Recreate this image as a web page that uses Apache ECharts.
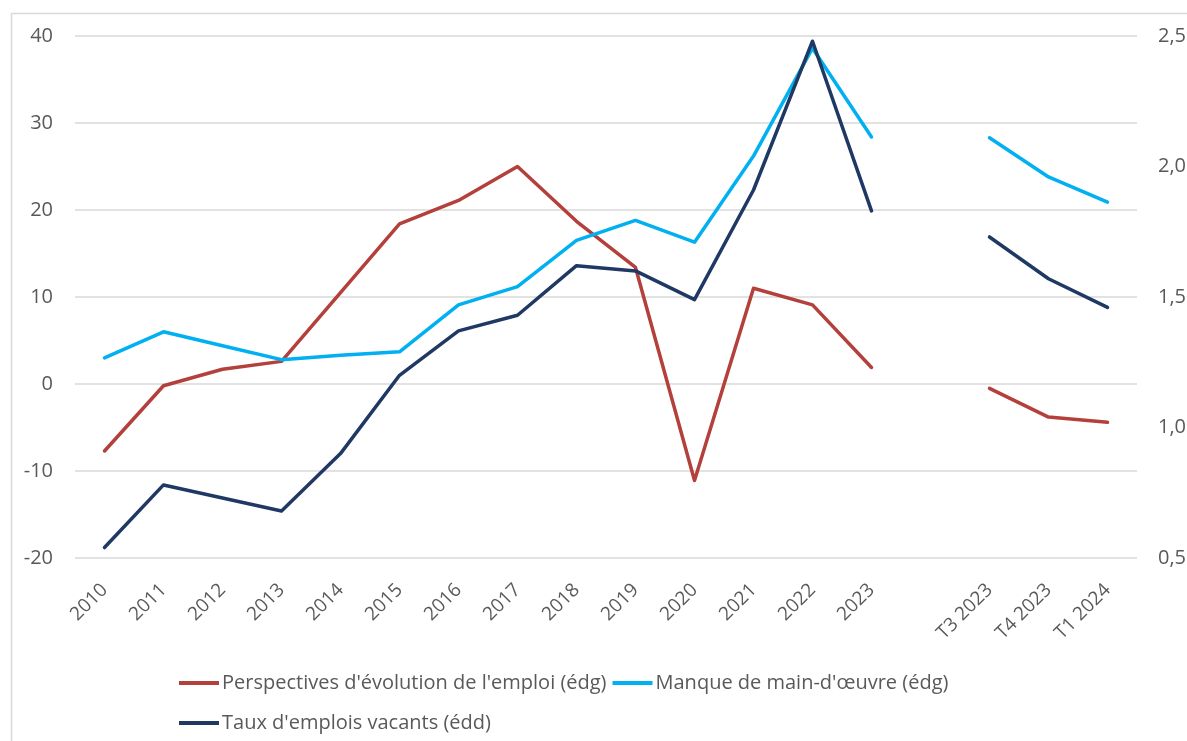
<!DOCTYPE html>
<html>
<head>
<meta charset="utf-8">
<script src="https://cdn.jsdelivr.net/npm/echarts@6/dist/echarts.min.js"></script>
<style>
  html, body { margin: 0; padding: 0; background: #fff; }
  #main { width: 1187px; height: 741px; }
</style>
</head>
<body>
<div id="main"></div>
<script>
// categories (one empty slot between annual and quarterly data)
var categories = ['2010', '2011', '2012', '2013', '2014', '2015', '2016', '2017', '2018', '2019',
  '2020', '2021', '2022', '2023', '', 'T3 2023', 'T4 2023', 'T1 2024'];

// Perspectives d'évolution de l'emploi (left axis)
var perspectives = [-7.7, -0.2, 1.7, 2.6, 10.5, 18.4, 21.1, 25.0, 18.7, 13.4,
  -11.1, 11.0, 9.1, 1.9, null, -0.5, -3.8, -4.4];

// Manque de main-d'oeuvre (left axis)
var manque = [3.0, 6.0, 4.4, 2.8, 3.3, 3.7, 9.1, 11.2, 16.5, 18.8,
  16.3, 26.2, 38.6, 28.4, null, 28.3, 23.8, 20.9];

// Taux d'emplois vacants (right axis)
var vacants = [0.54, 0.78, 0.73, 0.68, 0.90, 1.20, 1.37, 1.43, 1.62, 1.60,
  1.49, 1.91, 2.48, 1.83, null, 1.73, 1.57, 1.46];

var leftTicks = { min: -20, max: 40, interval: 10 };
var rightTicks = { min: 0.5, max: 2.5, interval: 0.5 };

var font = 'Open Sans';
var textGray = '#595959';

var chart = echarts.init(document.getElementById('main'));

function lineSeries(name, data, color, axis) {
  return {
    name: name,
    type: 'line',
    yAxisIndex: axis,
    data: data,
    showSymbol: false,
    symbol: 'none',
    connectNulls: false,
    lineStyle: { color: color, width: 3.5, cap: 'round', join: 'round' },
    itemStyle: { color: color },
    emphasis: { disabled: true },
    z: axis === 1 ? 3 : 2
  };
}

var option = {
  backgroundColor: '#fff',
  animation: false,
  textStyle: { fontFamily: font },
  graphic: [{
    type: 'rect',
    shape: { x: 11.5, y: 13.5, width: 1300, height: 900 },
    style: { fill: 'none', stroke: '#d9d9d9', lineWidth: 1.5 },
    silent: true
  }],
  grid: { left: 75, right: 50, top: 36, bottom: 183, outerBoundsMode: 'none' },
  legend: [{
    left: 174, top: 668,
    itemWidth: 40, itemHeight: 4, itemGap: 6,
    icon: 'rect',
    textStyle: { color: textGray, fontSize: 20, fontFamily: font, padding: [0, 0, 0, -2] },
    data: ["Perspectives d'évolution de l'emploi (édg)", "Manque de main-d'œuvre (édg)"]
  }, {
    left: 174, top: 708,
    itemWidth: 40, itemHeight: 4, itemGap: 6,
    icon: 'rect',
    textStyle: { color: textGray, fontSize: 20, fontFamily: font, padding: [0, 0, 0, -2] },
    data: ["Taux d'emplois vacants (édd)"]
  }],
  xAxis: {
    type: 'category',
    data: categories,
    boundaryGap: true,
    axisLine: { show: false },
    axisTick: { show: false },
    axisLabel: { rotate: 45, color: textGray, fontSize: 19, margin: 29, interval: 0 }
  },
  yAxis: [{
    type: 'value',
    min: leftTicks.min, max: leftTicks.max, interval: leftTicks.interval,
    axisLine: { show: false },
    axisTick: { show: false },
    splitLine: { lineStyle: { color: '#d9d9d9', width: 1.5 } },
    axisLabel: { color: textGray, fontSize: 20, margin: 22 }
  }, {
    type: 'value',
    min: rightTicks.min, max: rightTicks.max, interval: rightTicks.interval,
    axisLine: { show: false },
    axisTick: { show: false },
    splitLine: { show: false },
    axisLabel: {
      color: textGray, fontSize: 20, margin: 21,
      formatter: function (v) { return v.toFixed(1).replace('.', ','); }
    }
  }],
  series: [
    lineSeries("Perspectives d'évolution de l'emploi (édg)", perspectives, '#b3403b', 0),
    lineSeries("Manque de main-d'œuvre (édg)", manque, '#00b0f0', 0),
    lineSeries("Taux d'emplois vacants (édd)", vacants, '#1f3864', 1)
  ]
};

chart.setOption(option);
</script>
</body>
</html>
